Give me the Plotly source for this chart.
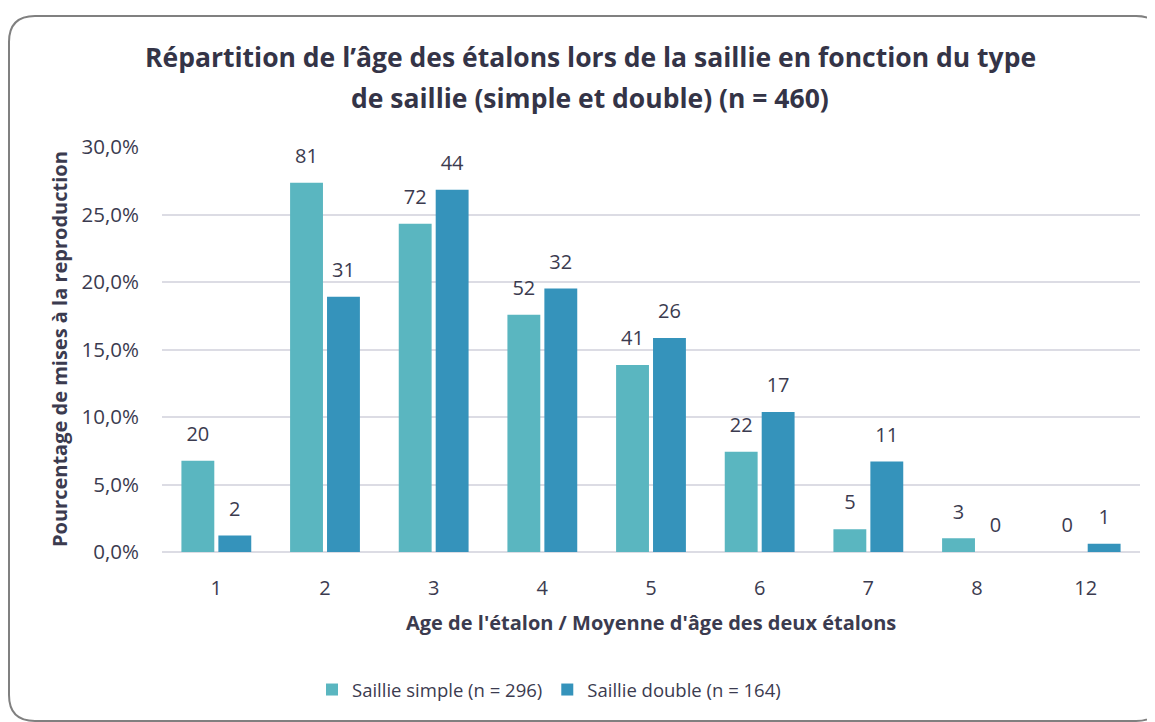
import plotly.graph_objects as go

categories = ["1", "2", "3", "4", "5", "6", "7", "8", "12"]
simple_counts = [20, 81, 72, 52, 41, 22, 5, 3, 0]
double_counts = [2, 31, 44, 32, 26, 17, 11, 0, 1]
simple_pct = [0.0676, 0.2736, 0.2432, 0.1757, 0.1385, 0.0743, 0.0169, 0.0101, 0.0]
double_pct = [0.0122, 0.1890, 0.2683, 0.1951, 0.1585, 0.1037, 0.0671, 0.0, 0.0061]
y_ticks = [0, 0.05, 0.10, 0.15, 0.20, 0.25, 0.30]

OFF = 8  # page body margin
W, H = 1155 - OFF, 722 - OFF
# plot area in page coords: x 162..1140, y 147..552
ML, MT = 162 - OFF, 147 - OFF
MR = W - (1140 - OFF)
MB = H - (552 - OFF)
PW, PH = W - ML - MR, H - MT - MB
TXT = "#3b3b4f"
FONT = "Open Sans"
BARGAP = 0.32


def px(x):
    return (x - OFF - ML) / PW


def py(y):
    return (H - MB - (y - OFF)) / PH


fig = go.Figure()
fig.add_trace(go.Bar(
    name="Saillie simple (n = 296)", x=categories, y=simple_pct,
    marker=dict(color="#5ab6c0", line=dict(width=0)), hoverinfo="skip",
))
fig.add_trace(go.Bar(
    name="Saillie double (n = 164)", x=categories, y=double_pct,
    marker=dict(color="#3593bb", line=dict(width=0)), hoverinfo="skip",
))
# value labels (counts) above bars, aligned with the bar groups
for vals, cnts in ((simple_pct, simple_counts), (double_pct, double_counts)):
    fig.add_trace(go.Scatter(
        x=categories, y=vals, mode="markers+text",
        text=[str(c) for c in cnts], textposition="top center",
        marker=dict(size=22, opacity=0), showlegend=False, hoverinfo="skip",
        textfont=dict(size=20, color=TXT, family=FONT), cliponaxis=False,
    ))

# rounded frame
x0, y0, x1, y1, r = 9, 16, 1162, 721, 26
path = (
    f"M {px(x0)},{py(y0 + r)} "
    f"Q {px(x0)},{py(y0)} {px(x0 + r)},{py(y0)} "
    f"L {px(x1 - r)},{py(y0)} "
    f"Q {px(x1)},{py(y0)} {px(x1)},{py(y0 + r)} "
    f"L {px(x1)},{py(y1 - r)} "
    f"Q {px(x1)},{py(y1)} {px(x1 - r)},{py(y1)} "
    f"L {px(x0 + r)},{py(y1)} "
    f"Q {px(x0)},{py(y1)} {px(x0)},{py(y1 - r)} Z"
)
fig.add_shape(type="path", path=path, xref="paper", yref="paper",
              line=dict(color="#808080", width=2), layer="below")

ann = [
    dict(text="Répartition de l’âge des étalons lors de la saillie en fonction du type",
         x=px(590), y=py(57), font=dict(size=26.5, color="#343447", family=FONT, weight="bold")),
    dict(text="de saillie (simple et double) (n = 460)",
         x=px(590), y=py(98), font=dict(size=26.5, color="#343447", family=FONT, weight="bold")),
    dict(text="Age de l'étalon / Moyenne d'âge des deux étalons",
         x=px(651), y=py(622), font=dict(size=20, color=TXT, family=FONT, weight="bold")),
    dict(text="Pourcentage de mises à la reproduction", textangle=-90,
         x=px(59), y=py(349), font=dict(size=20, color=TXT, family=FONT, weight="bold")),
]
for a in ann:
    a.update(xref="paper", yref="paper", showarrow=False, xanchor="center", yanchor="middle")

fig.update_layout(
    width=W, height=H,
    margin=dict(l=ML, r=MR, t=MT, b=MB, autoexpand=False),
    paper_bgcolor="white", plot_bgcolor="white",
    separators=", ",
    barmode="group", bargap=BARGAP, bargroupgap=0.11,
    scattermode="group", scattergap=BARGAP,
    font=dict(family=FONT, color=TXT, size=19),
    annotations=ann,
    showlegend=True,
    legend=dict(orientation="h", x=px(312), y=py(690), xanchor="left", yanchor="middle",
                font=dict(size=18.5, color=TXT, family=FONT), itemwidth=30,
                bgcolor="rgba(0,0,0,0)"),
    xaxis=dict(type="category", showgrid=False, zeroline=False, showline=False,
               ticks="", ticklabelstandoff=22, tickfont=dict(size=20, color=TXT)),
    yaxis=dict(range=[0, 0.30], tickvals=y_ticks, tickformat=".1%",
               showgrid=True, gridcolor="#dcdce4", gridwidth=1.5,
               zeroline=True, zerolinecolor="#dcdce4", zerolinewidth=1.5,
               showline=False, ticks="", ticklabelstandoff=22,
               tickfont=dict(size=20.5, color=TXT)),
)

fig.write_html("out.html")
